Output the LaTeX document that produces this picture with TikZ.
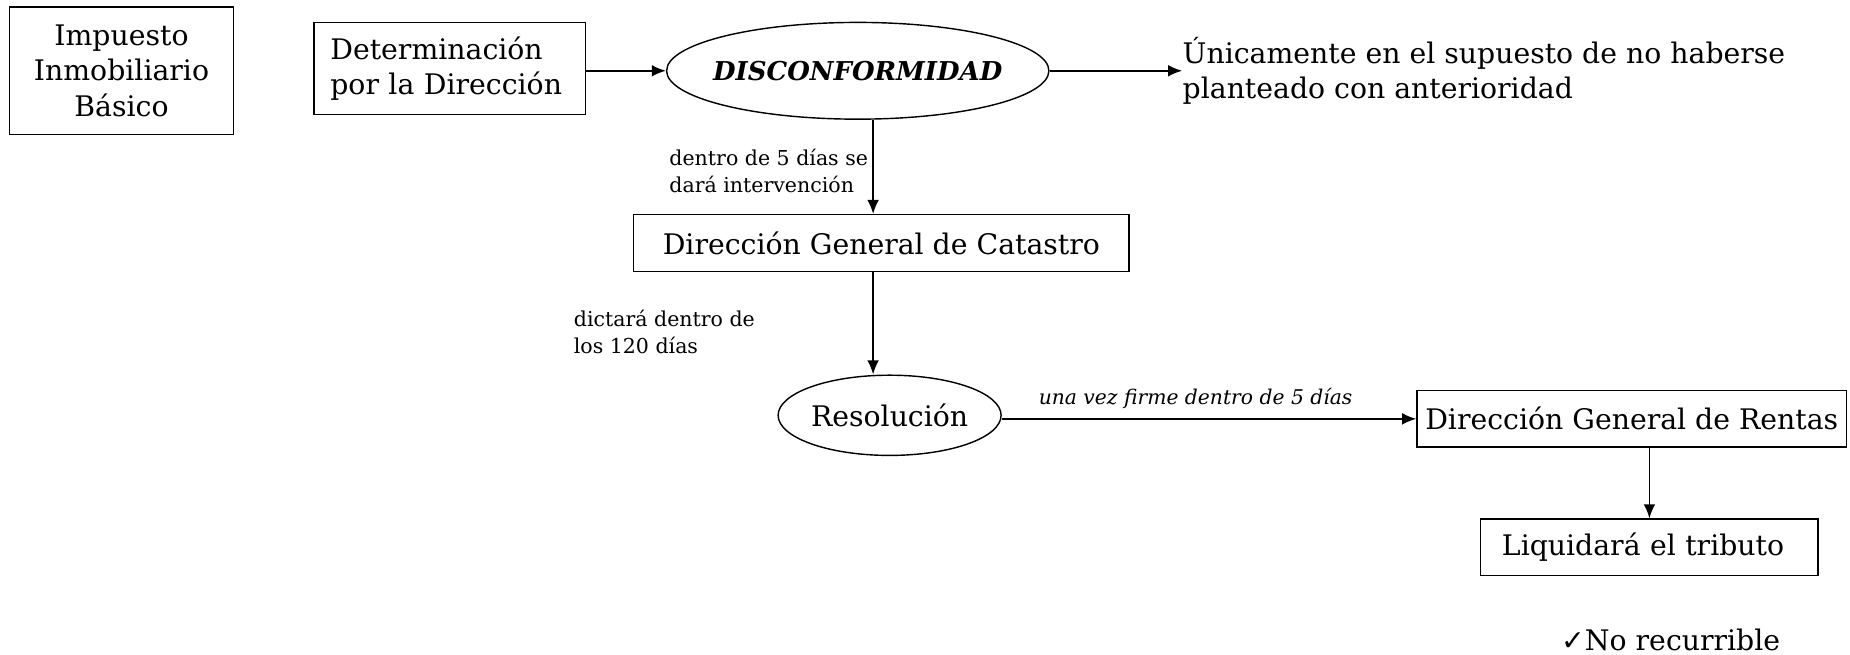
\documentclass[tikz,border=0pt]{standalone}
\usepackage{fontspec}
\setmainfont{DejaVu Serif}
\newfontfamily\simbolos{DejaVu Sans}
\usetikzlibrary{shapes.geometric, arrows.meta}

\tikzset{
  caja/.style={draw, line width=0.6pt, inner sep=0pt, minimum height=24pt, font=\fontsize{12}{15}\selectfont},
  elipse/.style={draw, ellipse, line width=0.6pt, inner sep=0pt, font=\fontsize{12}{15}\selectfont},
  nota/.style={inner sep=0pt, align=left, font=\fontsize{8.7}{11.5}\selectfont},
  flecha/.style={-{Latex[length=6pt, width=5pt]}, line width=0.8pt}
}

\begin{document}
\begin{tikzpicture}[x=0.5pt, y=-0.5pt]
    % Fija el marco del dibujo
    \useasboundingbox (0,0) rectangle (1568,555);

    % Define el eje vertical de las flechas centrales
    \coordinate (eje) at (740,0);

    % Dibuja las cajas y las elipses
    \node[caja, minimum width=95pt, minimum height=54pt, align=center] (impuesto) at (103,60)
        {Impuesto\\Inmobiliario\\Básico};
    \node[caja, minimum height=39pt, text width=101pt, inner xsep=7pt, align=left] (determ) at (381,58)
        {Determinación\\por la Dirección};
    \node[elipse, minimum width=162pt, minimum height=41pt, inner xsep=-4pt, font=\fontsize{11}{15}\selectfont\bfseries\itshape] (discon) at (727,60)
        {DISCONFORMIDAD};
    \node[anchor=west, inner sep=0pt, align=left, font=\fontsize{12}{15}\selectfont] (unico) at (1002,60)
        {Únicamente en el supuesto de no haberse\\planteado con anterioridad};
    \node[caja, minimum width=210pt] (catastro) at (747,206) {Dirección General de Catastro};
    \node[elipse, minimum width=94.5pt, minimum height=34pt] (resol) at (754,352) {Resolución};
    \node[caja, minimum width=182pt] (rentas) at (1383,355) {Dirección General de Rentas};
    \node[caja, minimum width=142.5pt, text width=125pt, inner xsep=9pt, align=left] (liquida) at (1398,464) {Liquidará el tributo};
    \node[inner sep=0pt, font=\fontsize{12}{15}\selectfont] (norec) at (1416,542)
        {{\simbolos ✓}No recurrible};

    % Dibuja las notas de las flechas
    \node[nota, anchor=west] (notaint) at (567,145) {dentro de 5 días se\\dará intervención};
    \node[nota, anchor=west] (notadict) at (486,281) {dictará dentro de\\los 120 días};
    \node[nota, anchor=west, font=\fontsize{8.6}{11.5}\selectfont\itshape] (notafirme) at (880,338)
        {una vez firme dentro de 5 días};

    % Dibuja las flechas
    \draw[flecha] (determ.east |- discon.west) -- (discon.west);
    \draw[flecha] (discon.east) -- (unico.west);
    \draw[flecha] (discon.south -| eje) -- (catastro.north -| eje);
    \draw[flecha] (catastro.south -| eje) -- (resol.north -| eje);
    \draw[flecha] (resol.east |- rentas.west) -- (rentas.west);
    \draw[flecha] (rentas.south -| liquida.north) -- (liquida.north);
\end{tikzpicture}
\end{document}
